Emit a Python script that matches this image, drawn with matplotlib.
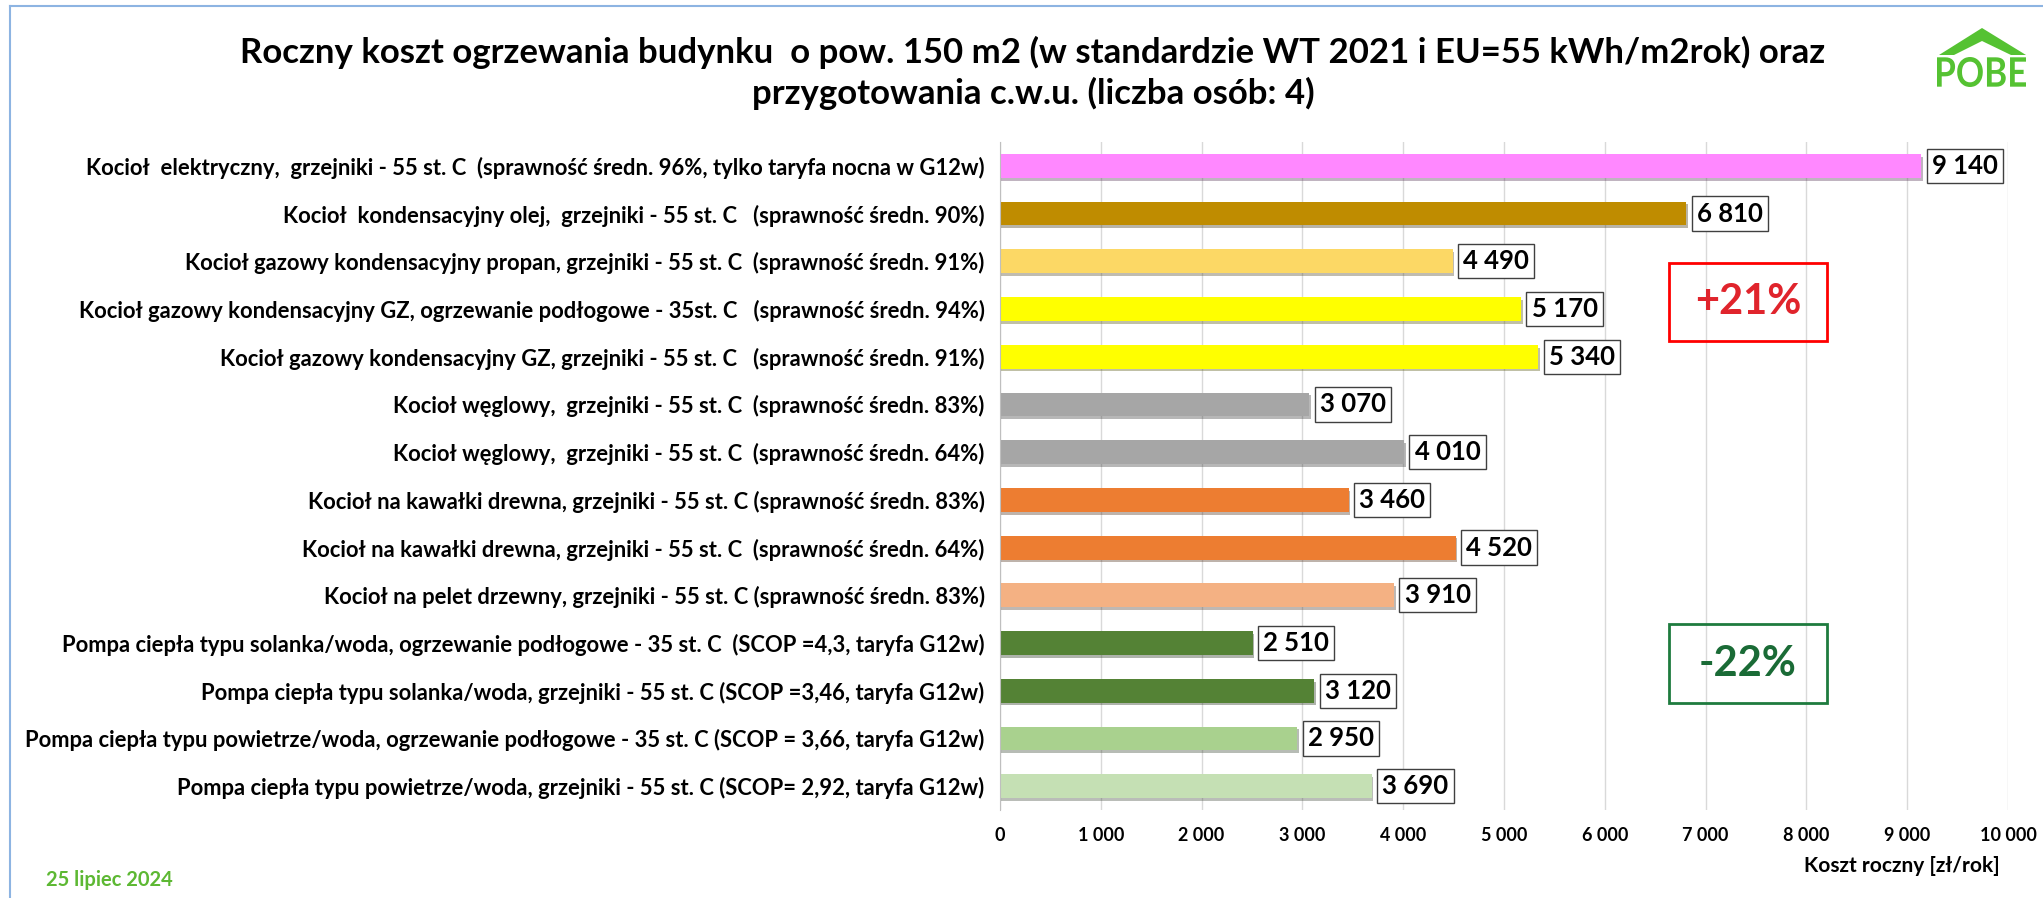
import numpy as np
import matplotlib
matplotlib.use("Agg")
import matplotlib.pyplot as plt
import matplotlib.patheffects as pe
from matplotlib.patches import Rectangle, Polygon, PathPatch
from matplotlib.lines import Line2D
from matplotlib.textpath import TextPath
from matplotlib.font_manager import FontProperties
from matplotlib.transforms import Affine2D

plt.rcParams['font.family'] = ['Lato', 'DejaVu Sans']
plt.rcParams['font.weight'] = 'bold'

# data, top to bottom as in the chart
categories = [
    "Kocioł  elektryczny,  grzejniki - 55 st. C  (sprawność średn. 96%, tylko taryfa nocna w G12w)",
    "Kocioł  kondensacyjny olej,  grzejniki - 55 st. C   (sprawność średn. 90%)",
    "Kocioł gazowy kondensacyjny propan, grzejniki - 55 st. C  (sprawność średn. 91%)",
    "Kocioł gazowy kondensacyjny GZ, ogrzewanie podłogowe - 35st. C   (sprawność średn. 94%)",
    "Kocioł gazowy kondensacyjny GZ, grzejniki - 55 st. C   (sprawność średn. 91%)",
    "Kocioł węglowy,  grzejniki - 55 st. C  (sprawność średn. 83%)",
    "Kocioł węglowy,  grzejniki - 55 st. C  (sprawność średn. 64%)",
    "Kocioł na kawałki drewna, grzejniki - 55 st. C (sprawność średn. 83%)",
    "Kocioł na kawałki drewna, grzejniki - 55 st. C  (sprawność średn. 64%)",
    "Kocioł na pelet drzewny, grzejniki - 55 st. C (sprawność średn. 83%)",
    "Pompa ciepła typu solanka/woda, ogrzewanie podłogowe - 35 st. C  (SCOP =4,3, taryfa G12w)",
    "Pompa ciepła typu solanka/woda, grzejniki - 55 st. C (SCOP =3,46, taryfa G12w)",
    "Pompa ciepła typu powietrze/woda, ogrzewanie podłogowe - 35 st. C (SCOP = 3,66, taryfa G12w)",
    "Pompa ciepła typu powietrze/woda, grzejniki - 55 st. C (SCOP= 2,92, taryfa G12w)",
]
costs = [9140, 6810, 4490, 5170, 5340, 3070, 4010, 3460, 4520, 3910, 2510, 3120, 2950, 3690]
colors = ["#FF88FF", "#BF8C00", "#FCD865", "#FFFF00", "#FFFF00", "#A6A6A6", "#A6A6A6",
          "#ED7D31", "#ED7D31", "#F4B183", "#548235", "#548235", "#A9D18E", "#C5E0B4"]
xticks = [0, 1000, 2000, 3000, 4000, 5000, 6000, 7000, 8000, 9000, 10000]

title = ("Roczny koszt ogrzewania budynku  o pow. 150 m2 (w standardzie WT 2021 i EU=55 kWh/m2rok) oraz\n"
         "przygotowania c.w.u. (liczba osób: 4)")


def fmt(v):
    return "{:,}".format(v).replace(",", " ")


W, H = 2043, 898
fig = plt.figure(figsize=(W / 100, H / 100), dpi=100)
ax = fig.add_axes([1000 / W, 1 - 810 / H, 1008 / W, 668 / H])

y = np.arange(len(categories))
bars = ax.barh(y, costs, height=0.5, color=colors, zorder=3)
for b in bars:
    b.set_path_effects([pe.SimplePatchShadow(offset=(1, -2), alpha=0.35), pe.Normal()])

ax.set_xlim(0, 10000)
ax.set_ylim(len(categories) - 0.5, -0.5)
ax.set_xticks(xticks)
ax.set_xticklabels([fmt(t) for t in xticks], fontsize=13, fontweight='bold')
ax.set_yticks(y)
ax.set_yticklabels(categories, fontsize=15.8, fontweight='bold')
ax.tick_params(axis='y', length=0, pad=11)
ax.tick_params(axis='x', length=0, pad=12)
ax.grid(axis='x', color='#D9D9D9', linewidth=1, zorder=0)
for s in ['top', 'right', 'bottom']:
    ax.spines[s].set_visible(False)
ax.spines['left'].set_color('#BFBFBF')
ax.spines['left'].set_zorder(4)

# value labels in boxes
for yi, v in zip(y, costs):
    ax.annotate(fmt(v), xy=(v, yi), xytext=(7.5, 0), textcoords='offset points',
                ha='left', va='center', fontsize=18.5, fontweight='bold', color='black',
                bbox=dict(boxstyle='square,pad=0.2', fc='white', ec='#404040', lw=1), zorder=5)

# percent boxes
ax.add_patch(Rectangle((6637, 2.03), 8204 - 6637, 1.64, fill=False, ec='#FF0000', lw=2, zorder=5))
ax.text((6637 + 8204) / 2, 2.85, "+21%", ha='center', va='center', fontsize=30,
        fontweight='bold', color='#E0242C', zorder=6)
ax.add_patch(Rectangle((6637, 9.6), 8204 - 6637, 1.66, fill=False, ec='#1E7B3E', lw=2, zorder=5))
ax.text((6637 + 8204) / 2, 10.44, "-22%", ha='center', va='center', fontsize=30,
        fontweight='bold', color='#1A6B36', zorder=6)

fig.text(1033 / W, 1 - 73 / H, title, ha='center', va='center', fontsize=25,
         fontweight='bold', linespacing=1.3)
fig.text(2000 / W, 1 - 866 / H, "Koszt roczny [zł/rok]", ha='right', va='center',
         fontsize=15, fontweight='bold')
fig.text(46 / W, 1 - 880 / H, "25 lipiec 2024", ha='left', va='center',
         fontsize=14.5, fontweight='bold', color='#5DB833')

# frame lines
fig.add_artist(Line2D([10 / W, 1], [1 - 6 / H, 1 - 6 / H], transform=fig.transFigure,
                      color='#8DB4E2', lw=1.5))
fig.add_artist(Line2D([10 / W, 10 / W], [0, 1 - 6 / H], transform=fig.transFigure,
                      color='#8DB4E2', lw=1.5))

# logo: roof + squeezed letters
green = '#55C232'
def P(px, py):
    return (px / W, 1 - py / H)
fig.add_artist(Polygon([P(1939, 55), P(1982, 28), P(2026, 55), P(2011, 55), P(1982, 41), P(1954, 55)],
                       closed=True, transform=fig.transFigure, fc=green, ec='none'))
tp = TextPath((0, 0), "POBE", size=10, prop=FontProperties(family='Lato', weight='bold'))
bb = tp.get_extents()
x0, x1, y0, y1 = 1937, 2026, 57, 87
sx = (x1 - x0) / W / bb.width
sy = (y1 - y0) / H / bb.height
tr = Affine2D().translate(-bb.x0, -bb.y0).scale(sx, sy).translate(x0 / W, 1 - y1 / H)
fig.add_artist(PathPatch(tr.transform_path(tp), transform=fig.transFigure, fc=green, ec='none'))

fig.savefig("out.png", dpi=100)
